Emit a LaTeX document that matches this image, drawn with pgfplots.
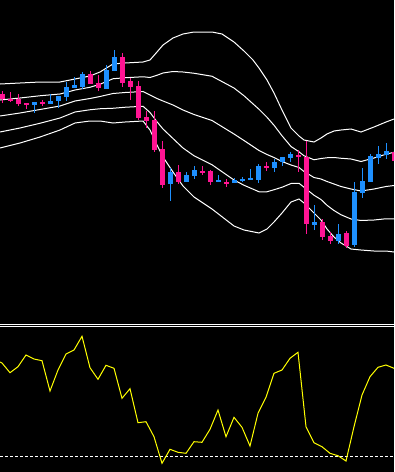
\documentclass[border=0pt]{standalone}
\usepackage{pgfplots}
\usepackage{pgfplotstable}
\pgfplotsset{compat=1.18}
\definecolor{pinkc}{RGB}{255,20,147}
\definecolor{bluec}{RGB}{30,144,255}
\definecolor{yel}{RGB}{255,255,0}

% candles in pixel units (y grows downwards): x, body top, body bottom, high, low
\pgfplotstableread{
x bt bb hi lo
2 94 99 91 103
10 99 100 92 102
18 99 104 94 106
26 103 105 103 109
42 102 103 100 106
90 74 84 71 84
98 83 88 75 91
122 57 83 53 87
130 81 87 78 100
138 86 118 81 120
146 117 121 111 128
154 120 150 111 152
162 149 185 141 188
178 172 182 165 184
202 171 172 166 175
210 171 182 170 185
226 182 183 179 187
266 166 167 162 171
298 155 156 150 172
306 157 224 141 234
322 222 237 219 240
330 236 241 232 244
346 233 246 231 248
394 152 161 152 161
}\pinkdata

\pgfplotstableread{
x bt bb hi lo
34 102 105 102 113
50 101 104 94 104
58 96 101 96 108
66 87 97 82 101
74 85 88 77 88
82 74 87 72 89
106 70 89 65 89
114 57 71 50 71
170 172 184 168 201
186 175 182 172 182
194 170 176 166 179
218 180 182 175 182
234 180 183 178 183
242 179 181 177 182
250 178 180 169 180
258 166 180 164 183
274 162 168 159 172
282 157 162 157 166
290 154 158 152 162
314 222 225 205 230
338 234 241 224 244
354 192 245 182 247
362 181 193 168 198
370 156 182 154 182
378 154 158 146 164
386 151 155 143 159
}\bluedata

\begin{document}
\begin{tikzpicture}
\fill[black] (0,0) rectangle (295.5pt,354pt);
\begin{axis}[
  width=295.5pt, height=354pt, scale only axis,
  xmin=0, xmax=394, ymin=0, ymax=472, y dir=reverse,
  axis lines=none, ticks=none,
]
% Bollinger bands (outer upper, inner upper, middle, inner lower, outer lower)
\addplot[white, line width=0.75pt, mark=none] coordinates {
(0,84)(20,83)(40,82)(60,82)(75,79)(90,76)(100,72)(113,64)(125,63)(143,62)(150,60)(157,52)(163,45)(173,38)(183,34)(194,32)(212,32)(222,34)(234,42)(244,51)(253,60)(259,68)(267,80)(274,93)(282,110)(291,128)(299,136)(304,140)(314,142)(321,138)(327,134)(334,131)(341,130)(351,129)(361,132)(374,127)(386,122)(394,119)};
\addplot[white, line width=0.75pt, mark=none] coordinates {
(0,100)(20,98)(40,95.75)(60,94)(75,90)(90,87.25)(100,84.25)(113,78.75)(125,77.75)(143,76.75)(150,77.5)(157,75.25)(163,73)(173,71.5)(183,72)(194,73.25)(212,76.25)(234,88)(244,95.75)(259,109.25)(267,117.25)(274,125.25)(282,135.75)(291,146.5)(299,151.75)(304,155.75)(314,159.75)(321,158.5)(327,157.75)(334,157.5)(341,158.25)(351,159)(361,161.5)(374,158)(386,154.25)(394,152.25)};
\addplot[white, line width=0.75pt, mark=none] coordinates {
(0,116)(20,113)(40,109.5)(60,106)(75,101)(90,98.5)(100,96.5)(113,93.5)(125,92.5)(143,91.5)(150,95)(157,98.5)(163,101)(173,105)(183,110)(194,114.5)(212,120.5)(234,134)(244,140.5)(259,150.5)(267,154.5)(274,157.5)(282,161.5)(291,165)(299,167.5)(304,171.5)(314,177.5)(321,179)(327,181.5)(334,184)(341,186.5)(351,189)(361,191)(374,189)(386,186.5)(394,185.5)};
\addplot[white, line width=0.75pt, mark=none] coordinates {
(0,132)(20,128)(40,123.25)(60,118)(75,112)(90,109.75)(100,108.75)(113,108.25)(125,107.25)(143,106.25)(150,112.5)(157,121.75)(163,129)(173,138.5)(183,148)(194,155.75)(212,164.75)(234,180)(244,185.25)(259,191.75)(267,191.75)(274,189.75)(282,187.25)(291,183.5)(299,183.25)(304,187.25)(314,195.25)(321,199.5)(327,205.25)(334,210.5)(341,214.75)(351,219)(361,220.5)(374,220)(386,218.75)(394,218.75)};
\addplot[white, line width=0.75pt, mark=none] coordinates {
(0,148)(20,143)(40,137)(60,130)(75,123)(90,121)(100,121)(113,123)(125,122)(143,121)(150,130)(157,145)(163,157)(173,172)(183,186)(194,197)(212,209)(234,226)(244,230)(259,233)(267,229)(274,222)(282,213)(291,202)(299,199)(304,203)(314,213)(321,220)(327,229)(334,237)(341,243)(351,249)(361,250)(374,251)(386,251)(394,252)};

% wicks
\addplot[draw=none, mark=none, forget plot, error bars/.cd, y dir=both, y explicit, error mark=none,
  error bar style={draw=pinkc, line width=0.75pt}]
  table[x=x, y expr={(\thisrow{hi}+\thisrow{lo})/2}, y error expr={(\thisrow{lo}-\thisrow{hi})/2}] {\pinkdata};
\addplot[draw=none, mark=none, forget plot, error bars/.cd, y dir=both, y explicit, error mark=none,
  error bar style={draw=bluec, line width=0.75pt}]
  table[x=x, y expr={(\thisrow{hi}+\thisrow{lo})/2}, y error expr={(\thisrow{lo}-\thisrow{hi})/2}] {\bluedata};
% bodies
\addplot[draw=none, mark=none, forget plot, error bars/.cd, y dir=both, y explicit, error mark=none,
  error bar style={draw=pinkc, line width=3.75pt}]
  table[x=x, y expr={(\thisrow{bt}+\thisrow{bb})/2}, y error expr={(\thisrow{bb}-\thisrow{bt})/2}] {\pinkdata};
\addplot[draw=none, mark=none, forget plot, error bars/.cd, y dir=both, y explicit, error mark=none,
  error bar style={draw=bluec, line width=3.75pt}]
  table[x=x, y expr={(\thisrow{bt}+\thisrow{bb})/2}, y error expr={(\thisrow{bb}-\thisrow{bt})/2}] {\bluedata};

% separator
\addplot[white, line width=0.75pt, mark=none] coordinates {(0,324.5)(394,324.5)};
\addplot[white, line width=0.75pt, mark=none] coordinates {(0,326.5)(394,326.5)};
% oscillator level
\addplot[white, line width=0.75pt, mark=none, dash pattern=on 2.25pt off 1.5pt] coordinates {(0,456)(394,456)};
% oscillator
\addplot[yel, line width=0.75pt, mark=none] coordinates {
(0,362)(2,363)(10,372.7)(18,366.7)(26,355)(34,359)(42,360.7)(50,391)(58,370)(66,354)(74,350)(82,336.3)(90,367.7)(98,379.3)(106,365.3)(114,368.3)(122,398.3)(130,388.7)(138,422.7)(146,421.7)(154,436.7)(162,463.3)(170,449.3)(178,452.3)(186,453.3)(194,441.7)(202,442.3)(210,429.3)(218,410)(226,436.7)(234,417.3)(242,427.3)(250,446)(258,413.3)(266,397.3)(274,373.3)(282,370)(290,358.3)(298,352.3)(306,426.7)(314,442.7)(322,446.7)(330,453.3)(338,455.7)(346,461)(354,426.7)(362,395)(370,376.7)(378,367.3)(386,365)(394,368.3)};
\end{axis}
\end{tikzpicture}
\end{document}
